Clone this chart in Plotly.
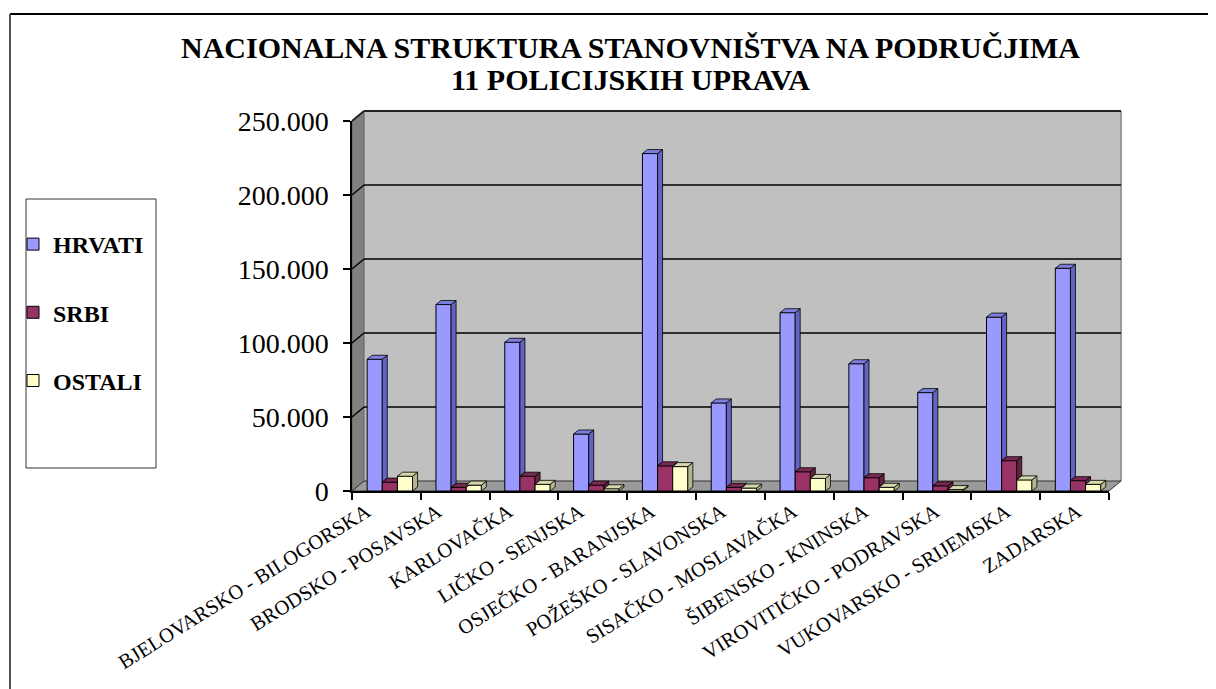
import plotly.graph_objects as go

# ---------------- data ----------------
categories = [
    "BJELOVARSKO - BILOGORSKA", "BRODSKO - POSAVSKA", "KARLOVAČKA",
    "LIČKO - SENJSKA", "OSJEČKO - BARANJSKA", "POŽEŠKO - SLAVONSKA",
    "SISAČKO - MOSLAVAČKA", "ŠIBENSKO - KNINSKA", "VIROVITIČKO - PODRAVSKA",
    "VUKOVARSKO - SRIJEMSKA", "ZADARSKA",
]
hrvati = [89000, 126000, 100500, 38500, 228000, 59500, 120500, 86000, 66500, 117500, 150500]
srbi = [6000, 2500, 10000, 4000, 17000, 2500, 13000, 9000, 3500, 20500, 7000]
ostali = [10000, 4000, 4500, 1500, 16500, 2000, 8500, 2500, 1000, 7500, 4500]
series_names = ["HRVATI", "SRBI", "OSTALI"]
y_ticks = [0, 50000, 100000, 150000, 200000, 250000]
title_lines = ["NACIONALNA STRUKTURA STANOVNIŠTVA NA PODRUČJIMA", "11 POLICIJSKIH UPRAVA"]

# ---------------- styling / geometry ----------------
W, H = 1216, 689
PAGE = 8                  # page body margin of the html wrapper
FONT = "Liberation Serif"
front_col = ["#9999FF", "#993366", "#FFFFCC"]
side_col = ["#6464C0", "#66223F", "#B5B58F"]
top_col = ["#7E7EDD", "#7A2952", "#D6D6AB"]

FX0, FX1 = 352, 1109      # front plane x extent (screen px)
FY0, FY1 = 491, 121       # front plane: value 0 and value 250000 (screen px)
LX0, LX1 = 331, 1113      # extent of the (perspective-spread) category label band
DX, DY = 12, 10           # wall depth offset (px)
YMAX = 250000
n = len(categories)
cat_px = (FX1 - FX0) / n
yscale = (FY0 - FY1) / YMAX

bar_w = 0.22
offsets = [-0.28, -0.06, 0.16]
bdx = 5 / cat_px          # bar depth in category units
bdy = 4 / yscale          # bar depth in value units


def px(x):
    return (x - PAGE) / W


def py(y):
    return 1 - (y - PAGE) / H


fig = go.Figure()
data = [hrvati, srbi, ostali]
xs = list(range(n))

# front faces as real bars
for k, (name, vals) in enumerate(zip(series_names, data)):
    fig.add_trace(go.Bar(
        x=xs, y=vals, width=bar_w, offset=offsets[k], name=name,
        marker=dict(color=front_col[k], line=dict(color="black", width=1)),
        legendgroup=name, hoverinfo="skip",
    ))

# side and top faces computed from the values
for k, vals in enumerate(data):
    sx, sy, tx, ty = [], [], [], []
    for j, v in enumerate(vals):
        x0 = j + offsets[k]
        x1 = x0 + bar_w
        vnext = data[k + 1][j] if k < len(data) - 1 else 0
        if v > vnext:
            sx += [x1, x1 + bdx, x1 + bdx, x1, x1, None]
            sy += [vnext, vnext + bdy, v + bdy, v, vnext, None]
        if vnext >= v + bdy:
            tx += [x0, x0 + bdx, x1, x1, x0, None]
            ty += [v, v + bdy, v + bdy, v, v, None]
        else:
            tx += [x0, x0 + bdx, x1 + bdx, x1, x0, None]
            ty += [v, v + bdy, v + bdy, v, v, None]
    fig.add_trace(go.Scatter(x=sx, y=sy, mode="lines", fill="toself",
                             fillcolor=side_col[k], line=dict(color="black", width=0.8),
                             showlegend=False, hoverinfo="skip"))
    fig.add_trace(go.Scatter(x=tx, y=ty, mode="lines", fill="toself",
                             fillcolor=top_col[k], line=dict(color="black", width=0.8),
                             showlegend=False, hoverinfo="skip"))

# carrier for the category-label axis (no visible marks)
fig.add_trace(go.Scatter(x=xs, y=[0] * n, xaxis="x2", yaxis="y", mode="markers",
                         marker=dict(opacity=0, size=1), showlegend=False, hoverinfo="skip"))

shapes = []
# back wall
shapes.append(dict(type="rect", xref="paper", yref="paper", layer="below",
                   x0=px(FX0 + DX), x1=px(FX1 + DX), y0=py(FY0 - DY), y1=py(FY1 - DY),
                   fillcolor="#C0C0C0", line=dict(width=0)))
# right edge shadow of wall
shapes.append(dict(type="line", xref="paper", yref="paper", layer="below",
                   x0=px(FX1 + DX), x1=px(FX1 + DX), y0=py(FY0 - DY), y1=py(FY1 - DY),
                   line=dict(color="#9A9A9A", width=2)))
# left wall
shapes.append(dict(type="path", xref="paper", yref="paper", layer="below",
                   path=f"M {px(FX0)},{py(FY0)} L {px(FX0)},{py(FY1)} L {px(FX0+DX)},{py(FY1-DY)} "
                        f"L {px(FX0+DX)},{py(FY0-DY)} Z",
                   fillcolor="#808080", line=dict(color="#606060", width=1)))
# floor
shapes.append(dict(type="path", xref="paper", yref="paper", layer="below",
                   path=f"M {px(FX0)},{py(FY0)} L {px(FX1)},{py(FY0)} L {px(FX1+DX)},{py(FY0-DY)} "
                        f"L {px(FX0+DX)},{py(FY0-DY)} Z",
                   fillcolor="#9A9A9A", line=dict(color="#333333", width=1)))
# grid lines on walls
for v in y_ticks[1:]:
    yf = FY0 - v * yscale
    yb = yf - DY
    wdt = 2 if v == YMAX else 1.4
    col = "#222222" if v == YMAX else "black"
    shapes.append(dict(type="line", xref="paper", yref="paper", layer="below",
                       x0=px(FX0 + DX), x1=px(FX1 + DX), y0=py(yb), y1=py(yb),
                       line=dict(color=col, width=wdt)))
    shapes.append(dict(type="line", xref="paper", yref="paper", layer="below",
                       x0=px(FX0), x1=px(FX0 + DX), y0=py(yf), y1=py(yb),
                       line=dict(color=col, width=wdt)))
# outer chart frame (top and left)
shapes.append(dict(type="line", xref="paper", yref="paper", x0=px(10), x1=1.0,
                   y0=py(14), y1=py(14), line=dict(color="black", width=2)))
shapes.append(dict(type="line", xref="paper", yref="paper", x0=px(10), x1=px(10),
                   y0=py(14), y1=0, line=dict(color="#555555", width=2)))
# legend box
shapes.append(dict(type="rect", xref="paper", yref="paper", x0=px(26), x1=px(156),
                   y0=py(468), y1=py(199), line=dict(color="#333333", width=1),
                   fillcolor="white", layer="below"))

fig.update_layout(
    width=W, height=H, autosize=False,
    margin=dict(l=0, r=0, t=0, b=0, autoexpand=False),
    paper_bgcolor="white", plot_bgcolor="rgba(0,0,0,0)",
    separators=",.",
    barmode="overlay",
    shapes=shapes,
    showlegend=True,
    legend=dict(x=px(13), y=py(222), xanchor="left", yanchor="top",
                bgcolor="rgba(0,0,0,0)", borderwidth=0,
                font=dict(family=FONT, size=24, color="black", weight="bold"),
                tracegroupgap=34, itemwidth=30),
    xaxis=dict(domain=[px(FX0), px(FX1)], range=[-0.5, n - 0.5], automargin=False,
               tickmode="array", tickvals=xs, showticklabels=False,
               ticks="", showgrid=False, zeroline=False,
               showline=True, linecolor="black", linewidth=1.5,
               minor=dict(tickmode="array", tickvals=[i - 0.5 for i in range(n + 1)],
                          ticks="outside", ticklen=7, tickcolor="black", tickwidth=1.5)),
    xaxis2=dict(domain=[px(LX0), px(LX1)], range=[-0.5, n - 0.5], anchor="y",
                automargin=False, tickmode="array", tickvals=xs, ticktext=categories,
                tickangle=-32, ticks="", showgrid=False, zeroline=False, showline=False,
                ticklabelstandoff=4,
                tickfont=dict(family=FONT, size=20.5, color="black")),
    yaxis=dict(domain=[py(FY0), py(FY1)], range=[0, YMAX], automargin=False,
               tickmode="array", tickvals=y_ticks, tickformat=",d",
               ticks="outside", ticklen=7, tickcolor="black", tickwidth=1.5,
               ticklabelstandoff=9,
               showgrid=False, zeroline=False,
               showline=True, linecolor="black", linewidth=1.5,
               tickfont=dict(family=FONT, size=28, color="black")),
    annotations=[
        dict(x=px(630), y=py(48), xref="paper", yref="paper", xanchor="center", yanchor="middle",
             text=title_lines[0], showarrow=False,
             font=dict(family=FONT, size=30, color="black", weight="bold")),
        dict(x=px(630), y=py(80), xref="paper", yref="paper", xanchor="center", yanchor="middle",
             text=title_lines[1], showarrow=False,
             font=dict(family=FONT, size=30, color="black", weight="bold")),
    ],
)

fig.write_html("out.html")
